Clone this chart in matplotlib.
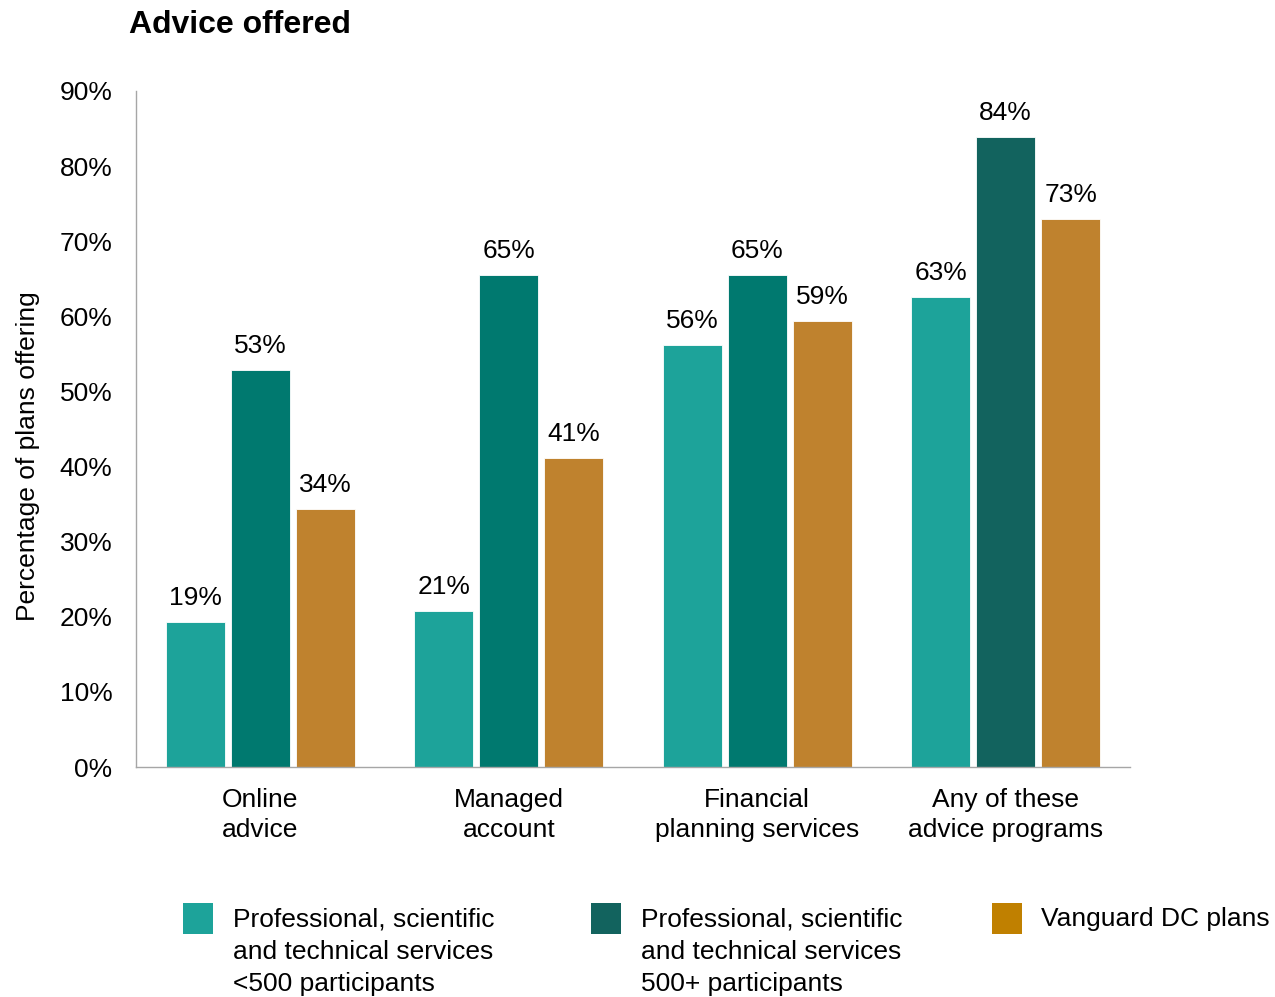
import matplotlib
matplotlib.use("Agg")
import matplotlib.pyplot as plt
from matplotlib.patches import Rectangle
import numpy as np

plt.rcParams['font.family'] = ['Liberation Sans', 'DejaVu Sans']

categories = ["Online\nadvice", "Managed\naccount", "Financial\nplanning services", "Any of these\nadvice programs"]
series_names = ["Professional, scientific\nand technical services\n<500 participants",
                "Professional, scientific\nand technical services\n500+ participants",
                "Vanguard DC plans"]
small_plans = [19.3, 20.8, 56.2, 62.6]
large_plans = [52.9, 65.5, 65.5, 83.9]
vanguard = [34.4, 41.2, 59.4, 73.0]
small_labels = ["19%", "21%", "56%", "63%"]
large_labels = ["53%", "65%", "65%", "84%"]
vanguard_labels = ["34%", "41%", "59%", "73%"]
yticks = [0, 10, 20, 30, 40, 50, 60, 70, 80, 90]

bar_colors = [
    ["#1DA39A"] * 4,
    ["#00796F", "#00796F", "#00796F", "#12635E"],
    ["#BF822E"] * 4,
]
legend_colors = ["#1DA39A", "#12635E", "#C08000"]

fig = plt.figure(figsize=(12.75, 9.97), dpi=100)
ax = fig.add_axes([136/1275, 1-767/997, (1130-136)/1275, (767-91)/997])

x = np.arange(len(categories))
pitch = 0.261
width = 0.237
all_vals = [small_plans, large_plans, vanguard]
all_labels = [small_labels, large_labels, vanguard_labels]
for i, (vals, labs) in enumerate(zip(all_vals, all_labels)):
    pos = x + (i - 1) * pitch
    ax.bar(pos, vals, width=width, color=bar_colors[i], edgecolor='white', linewidth=0.6)
    for xp, v, lab in zip(pos, vals, labs):
        ax.annotate(lab, (xp, v), xytext=(0, 8.5), textcoords='offset points',
                    ha='center', va='bottom', fontsize=19, color='black')

ax.set_xlim(-0.5, 3.5)
ax.set_ylim(0, 90)
ax.set_yticks(yticks)
ax.set_yticklabels([f"{t}%" for t in yticks], fontsize=19)
ax.set_xticks(x)
ax.set_xticklabels(categories, fontsize=19, linespacing=1.31)
ax.tick_params(axis='both', length=0)
ax.tick_params(axis='y', pad=17)
ax.tick_params(axis='x', pad=15)
for s in ['top', 'right']:
    ax.spines[s].set_visible(False)
for s in ['left', 'bottom']:
    ax.spines[s].set_color('#A6A6A6')
    ax.spines[s].set_linewidth(1.0)
ax.set_ylabel("Percentage of plans offering", fontsize=19)
ax.yaxis.set_label_coords(-0.097, 0.46)

fig.text(129/1275, 1-25/997, "Advice offered", fontsize=23, fontweight='bold', va='center', ha='left')

sw_x = [183, 591, 992]
tx_x = [233, 641, 1041]
for sx, tx, col, name in zip(sw_x, tx_x, legend_colors, series_names):
    fig.add_artist(Rectangle((sx/1275, 1-934/997), 30/1275, 31/997, transform=fig.transFigure,
                             facecolor=col, edgecolor='none'))
    fig.text(tx/1275, 1-907/997, name, fontsize=19, va='top', ha='left', linespacing=1.45)

fig.savefig("out.png", dpi=100)
